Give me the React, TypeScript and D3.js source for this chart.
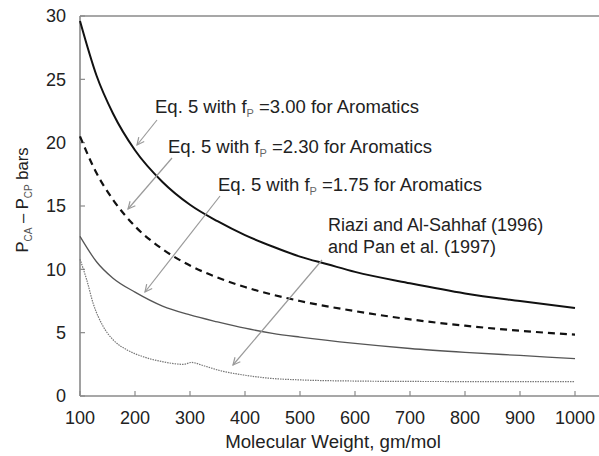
import React from "react";
import * as d3 from "d3";

const W = 599;
const H = 456;

const xTicks = [100, 200, 300, 400, 500, 600, 700, 800, 900, 1000];
const yTicks = [0, 5, 10, 15, 20, 25, 30];

const mwFp300 = [100, 130, 160, 200, 250, 300, 350, 400, 450, 500, 550, 600, 700, 800, 900, 1000];
const valFp300 = [29.6, 25.3, 22.3, 19.4, 16.9, 15.1, 13.8, 12.7, 11.8, 11.0, 10.4, 9.8, 8.9, 8.1, 7.5, 6.95];

const mwFp230 = [100, 130, 160, 200, 250, 300, 350, 400, 450, 500, 600, 700, 800, 900, 1000];
const valFp230 = [20.5, 17.6, 15.5, 13.4, 11.6, 10.3, 9.35, 8.6, 8.0, 7.5, 6.7, 6.05, 5.55, 5.15, 4.85];

const mwFp175 = [100, 130, 160, 200, 250, 300, 350, 400, 450, 500, 600, 700, 800, 900, 1000];
const valFp175 = [12.6, 10.6, 9.3, 8.2, 7.1, 6.4, 5.85, 5.35, 4.95, 4.65, 4.15, 3.75, 3.45, 3.2, 2.95];

const mwRiazi = [100, 112, 124, 142, 161, 185, 215, 251, 288, 303, 324, 355, 397, 445, 500, 600, 700, 800, 900, 1000];
const valRiazi = [10.8, 9.2, 7.3, 5.5, 4.4, 3.65, 3.1, 2.7, 2.5, 2.65, 2.4, 2.0, 1.66, 1.4, 1.27, 1.18, 1.15, 1.14, 1.13, 1.13];

const x = d3.scaleLinear().domain([100, 1000]).range([80, 575]);
const y = d3.scaleLinear().domain([0, 30]).range([396, 16]);

const line = d3
  .line<[number, number]>()
  .x((d) => x(d[0]))
  .y((d) => y(d[1]))
  .curve(d3.curveMonotoneX);

const zip = (a: number[], b: number[]) => a.map((v, i) => [v, b[i]] as [number, number]);

const FONT = "Liberation Sans, Arial, Helvetica, sans-serif";
const AXIS = "#8a8a8a";
const ARROW = "#9a9a9a";

function Arrow({ x1, y1, x2, y2 }: { x1: number; y1: number; x2: number; y2: number }) {
  const ang = Math.atan2(y2 - y1, x2 - x1);
  const L = 8;
  const a1 = ang + Math.PI - 0.45;
  const a2 = ang + Math.PI + 0.45;
  return (
    <g stroke={ARROW} strokeWidth={1.2} fill="none">
      <line x1={x1} y1={y1} x2={x2} y2={y2} />
      <polyline
        points={`${x2 + L * Math.cos(a1)},${y2 + L * Math.sin(a1)} ${x2},${y2} ${x2 + L * Math.cos(a2)},${y2 + L * Math.sin(a2)}`}
      />
    </g>
  );
}

function EqLabel({ tx, ty, fp }: { tx: number; ty: number; fp: string }) {
  return (
    <text x={tx} y={ty} fontSize={18.5} fill="#222" fontFamily={FONT}>
      Eq. 5 with f
      <tspan fontSize={11} dy={4} fill="#666">P</tspan>
      <tspan dy={-4}> =</tspan>
      {fp} for Aromatics
    </text>
  );
}

export default function App() {
  return (
    <svg
      width={W}
      height={H}
      style={{ position: "absolute", left: 0, top: 0, background: "#fff" }}
      fontFamily={FONT}
    >
      <line x1={80} y1={16} x2={599} y2={16} stroke={AXIS} strokeWidth={1.6} />
      <line x1={80} y1={16} x2={80} y2={396} stroke={AXIS} strokeWidth={1.6} />
      <line x1={80} y1={396} x2={599} y2={396} stroke={AXIS} strokeWidth={1.6} />

      {yTicks.map((t) => (
        <g key={"y" + t}>
          <line x1={80} x2={85} y1={y(t)} y2={y(t)} stroke={AXIS} strokeWidth={1.2} />
          <text x={66} y={y(t)} dy="0.35em" textAnchor="end" fontSize={18} fill="#222">
            {t}
          </text>
        </g>
      ))}
      {xTicks.map((t) => (
        <g key={"x" + t}>
          <line x1={x(t)} x2={x(t)} y1={396} y2={391} stroke={AXIS} strokeWidth={1.2} />
          <text x={x(t)} y={424} textAnchor="middle" fontSize={18} fill="#222">
            {t}
          </text>
        </g>
      ))}

      <text x={333} y={448} textAnchor="middle" fontSize={18.7} fill="#222">
        Molecular Weight, gm/mol
      </text>

      <text
        transform="translate(28,200) rotate(-90)"
        textAnchor="middle"
        fontSize={16.5}
        fill="#222"
      >
        P<tspan fontSize={10} dy={4} fill="#555">CA</tspan>
        <tspan dy={-4}> – P</tspan>
        <tspan fontSize={10} dy={4} fill="#555">CP</tspan>
        <tspan dy={-4}> bars</tspan>
      </text>

      <path d={line(zip(mwRiazi, valRiazi)) || ""} fill="none" stroke="#777" strokeWidth={1.2} strokeDasharray="1.5 1" />
      <path d={line(zip(mwFp175, valFp175)) || ""} fill="none" stroke="#555" strokeWidth={1.3} />
      <path d={line(zip(mwFp230, valFp230)) || ""} fill="none" stroke="#111" strokeWidth={2.2} strokeDasharray="7 5" />
      <path d={line(zip(mwFp300, valFp300)) || ""} fill="none" stroke="#111" strokeWidth={2} />

      <EqLabel tx={155} ty={113} fp="3.00" />
      <Arrow x1={157} y1={120} x2={137} y2={145} />
      <EqLabel tx={168} ty={153} fp="2.30" />
      <Arrow x1={172} y1={158} x2={128} y2={209} />
      <EqLabel tx={218} ty={191} fp="1.75" />
      <Arrow x1={220} y1={196} x2={145} y2={292} />
      <text x={328} y={231} fontSize={18} fill="#222">Riazi and Al-Sahhaf (1996)</text>
      <text x={328} y={253} fontSize={18} fill="#222">and Pan et al. (1997)</text>
      <Arrow x1={322} y1={260} x2={233} y2={365} />
    </svg>
  );
}
